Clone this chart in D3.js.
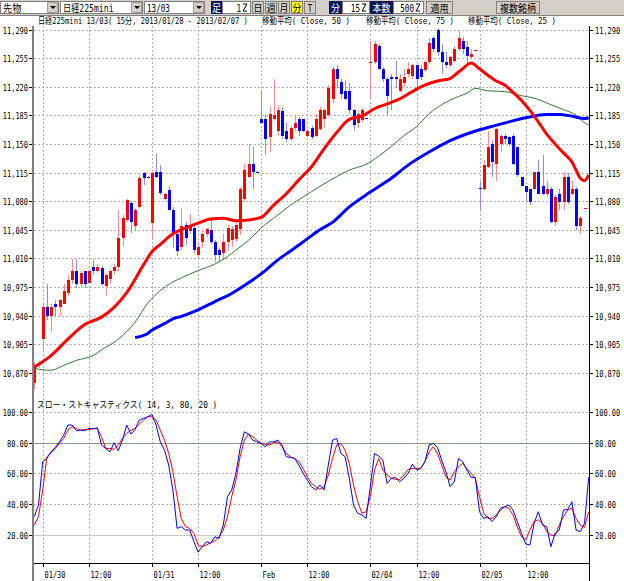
<!DOCTYPE html>
<html>
<head>
<meta charset="utf-8">
<script src="https://cdn.jsdelivr.net/npm/d3@7"></script>
<style>
  body { margin: 0; background: #fff; }
  text { font-family: "DejaVu Sans Mono", "Noto Sans CJK JP", monospace; font-size: 9px; fill: #000; }
</style>
</head>
<body>
<div id="chart"></div>
<script>
// ---- data (15 minute bars, index 0 = 01/30 first bar, 26 bars per session) ----
const firstBar = -2;
// each row: open, high, low, close
const opens  = [10858,10879,10911,10950,10939,10954,10950,10954,10968,10984,10994,10978,10994,10980,10999,10994,10998,10976,10985,10994,10999,11035,11057,11078,11050,11073,11114,11110,
                11053,11116,11116,11083,11093,11069,11040,11024,11051,11043,11047,11014,11030,11040,11045,11030,11020,11016,11030,11032,11034,11046,11083,11110,11126,11116,
                11181,11181,11158,11181,11166,11190,11166,11156,11170,11181,11180,11160,11170,11160,11168,11181,11185,11205,11242,11226,11215,11215,11191,11175,11179,11182,
                11249,11250,11270,11242,11230,11232,11232,11215,11225,11236,11233,11246,11242,11240,11250,11280,11290,11262,11250,11246,11252,11266,11276,11268,11256,11264,
                11096,11095,11122,11150,11126,11150,11160,11158,11160,11146,11110,11099,11095,11095,11116,11099,11089,11095,11055,11089,11079,11110,11089,11095,11050,11070];
const highs  = [10883,10884,10954,10978,10954,10959,10960,10978,10990,11009,11009,10994,10995,10997,11009,11003,11000,10992,10996,11003,11069,11063,11082,11080,11072,11112,11116,11111,
                11116,11138,11124,11090,11097,11073,11043,11071,11055,11064,11050,11030,11045,11047,11061,11032,11022,11040,11051,11050,11056,11097,11126,11150,11146,11117,
                11215,11185,11195,11230,11197,11195,11175,11172,11185,11183,11181,11168,11172,11186,11195,11193,11222,11244,11246,11229,11228,11225,11193,11192,11194,11182,
                11276,11276,11272,11244,11232,11236,11252,11236,11242,11250,11248,11247,11246,11253,11280,11282,11292,11272,11262,11258,11270,11290,11281,11276,11266,11265,
                11105,11130,11166,11155,11170,11162,11162,11160,11162,11146,11110,11099,11095,11116,11130,11136,11105,11097,11087,11095,11116,11114,11105,11097,11062,11072];
const lows   = [10850,10876,10898,10934,10920,10939,10940,10954,10964,10978,10974,10975,10974,10978,10990,10992,10976,10964,10978,10990,10994,11025,11054,11041,11043,11071,11100,11108,
                11035,11108,11087,11080,11068,11022,11013,11020,11026,11040,11016,11010,11022,11036,11028,11006,11005,11008,11020,11024,11030,11038,11079,11108,11095,11115,
                11175,11136,11140,11178,11160,11156,11152,11154,11166,11160,11164,11158,11156,11158,11166,11170,11183,11200,11219,11205,11204,11187,11166,11170,11177,11180,
                11205,11248,11240,11226,11185,11191,11219,11213,11220,11232,11230,11219,11228,11238,11248,11262,11258,11235,11243,11244,11250,11264,11260,11246,11254,11264,
                11069,11094,11120,11110,11105,11140,11150,11148,11124,11110,11099,11079,11075,11093,11089,11087,11085,11053,11049,11069,11069,11077,11087,11045,11040,11070];
const closes = [10880,10882,10950,10939,10950,10950,10959,10970,10984,10994,10978,10992,10978,10994,10994,10999,10978,10990,10994,10999,11035,11059,11081,11055,11069,11108,11108,11109,
                11114,11110,11090,11089,11069,11040,11019,11050,11035,11051,11020,11024,11040,11046,11030,11014,11014,11030,11047,11046,11051,11095,11118,11126,11116,11115,
                11175,11156,11186,11185,11191,11160,11156,11170,11176,11166,11166,11166,11158,11181,11191,11191,11219,11242,11230,11211,11205,11191,11173,11187,11191,11181,
                11250,11272,11242,11230,11209,11230,11230,11230,11232,11242,11246,11230,11232,11250,11274,11266,11262,11250,11246,11256,11266,11280,11266,11258,11260,11265,
                11095,11124,11146,11128,11168,11160,11156,11150,11126,11112,11099,11091,11079,11116,11089,11089,11095,11055,11085,11079,11110,11079,11095,11049,11059,11072];

// moving averages: [bar, value]
const ma25 = [[-2,10877],[2,10891],[6,10911],[10,10929],[14,10938],[17,10950],[20,10968],[24,11002],[26,11018],[28,11027],[31,11040],
              [34,11047],[37,11053],[40,11058],[43,11059],[46,11056],[49,11057],[52,11060],[55,11075],[58,11089],[61,11106],[64,11122],
              [67,11144],[70,11164],[73,11180],[76,11184],[79,11193],[82,11199],[85,11205],[88,11214],[91,11222],[94,11227],[97,11230],
              [99,11238],[100,11242],[102,11249],[104,11242],[106,11234],[108,11227],[110,11222],[112,11213],[114,11203],[116,11191],
              [118,11177],[120,11162],[122,11150],[124,11139],[126,11128],[127,11118],[128,11108],[129,11105],[130,11112]];
const ma50 = [[-2,10875],[2,10873],[5,10879],[8,10885],[12,10891],[14,10898],[18,10911],[22,10932],[25,10955],[27,10966],[30,10978],
              [33,10986],[37,10995],[41,11003],[44,11012],[46,11020],[49,11032],[52,11047],[56,11063],[59,11075],[62,11085],[66,11098],
              [70,11110],[73,11118],[77,11125],[80,11135],[83,11147],[86,11160],[89,11171],[92,11187],[95,11198],[99,11208],[101,11212],
              [103,11218],[106,11215],[110,11214],[114,11209],[117,11206],[121,11198],[124,11192],[127,11185],[129,11176],[130,11173]];
const ma75 = [[22,10913],[25,10918],[26,10922],[29,10930],[31,10936],[33,10939],[37,10947],[41,10957],[45,10967],[49,10980],[53,10995],
              [56,11008],[59,11019],[62,11030],[66,11045],[69,11054],[73,11073],[78,11091],[83,11108],[87,11124],[92,11140],[97,11154],
              [102,11164],[106,11170],[111,11177],[115,11182],[120,11186],[123,11186],[126,11184],[129,11181],[130,11182]];

// slow stochastics, bars -2 .. 130
const stochK = [31.9,39.5,67.6,69.7,74,76.9,80.5,84.9,91.4,91.4,87.7,88.1,87.7,89.2,88.8,89.6,78.4,76.2,74,79.9,74.7,81.6,91.4,85.5,88.5,94.6,95.7,96.8,
                98.3,91.4,80.5,75.1,65.4,49.2,24.3,25.4,23.2,23.2,15.7,8.8,12.4,15.7,14.6,18.9,17.8,26.5,44.9,49.2,60,76.2,87,85.5,81.6,80.5,
                79.5,77.3,80.5,80.5,81.6,78.4,70.8,70.4,69.7,65.4,60,55.7,51.4,49.2,52.4,49.2,65.4,81.6,82.7,73,70.8,56.8,39.5,34.1,33,30.8,
                51.4,73,71.2,68.6,53.5,56.8,57.4,54.6,56.8,60,66,62.2,63.2,67.6,78.4,79.5,76.9,68.6,61.1,51.4,54.6,69.7,67.6,62.2,57.4,57.4,
                35.1,30.8,31.9,28.7,31.9,37.3,38.4,39.5,36.2,28.7,21.1,14.2,13.5,27.6,35.1,26.5,25.4,12.4,21.1,23.2,36.2,36.6,41.6,23.2,22.2,27.6,57.4];
const stochD = [26.5,31.9,49.2,70.8,73.4,76.2,79.5,82.7,88.1,90.3,89.2,88.1,88.5,88.5,89.2,89.2,83.8,76.2,76.2,75.6,78.4,82.7,85.9,88.1,89.2,92,94.6,96.8,
                96.8,94.6,88.1,81.6,73,61.1,44.9,30.8,25.4,24.3,21.1,13.5,12.4,13.5,15,16.3,18.9,23.2,31.9,44.9,55.7,70.8,81.6,85.5,83.8,81.6,
                79.5,79,78.4,79.9,80.5,77.3,73,70.8,69.7,67.6,63.2,57.8,53.5,51.4,49.6,51.4,58.9,69.7,78.4,79.5,75.1,66.5,52.4,41.6,34.1,35.1,
                44.9,62.2,69.7,62.2,58.9,56.8,56.1,56.1,58.9,62.6,63.2,63.2,63.2,67.6,74,77.3,73,65.4,57.8,55.7,61.1,64.3,66.5,63.2,60,56.8,
                44.9,34.1,30.8,30.8,33,36.2,38.4,37.3,33,25.4,18.9,16.8,23.2,28.7,29.8,27.6,22.2,20,19.4,26.5,31.9,36.2,37.3,30.8,26.5,25,35.1];

const priceTicks = d3.range(10870, 11291, 35);
const stochTicks = [20, 40, 60, 80, 100];
const timeTickBars = [0, 11, 26, 37, 52, 63, 78, 89, 104, 115];
const timeTickLabels = ["01/30", "12:00", "01/31", "12:00", "Feb", "12:00", "02/04", "12:00", "02/05", "12:00"];

// ---- layout ----
const width = 624, height = 581;
const plotLeft = 34, plotRight = 589;
const mainTop = 26, mainBottom = 393;
const stochTop = 396, stochBottom = 563;

const svg = d3.select("#chart").append("svg")
    .attr("width", width)
    .attr("height", height);

const x = d3.scaleLinear().domain([0, 130]).range([42.7, 588.7]);
const y = d3.scaleLinear().domain([10870, 11290]).range([372.7, 29.5]);
const ys = d3.scaleLinear().domain([0, 100]).range([565.8, 411.8]);

// text squeezed horizontally to the narrow bitmap font of the original
function units(s) {
    let n = 0;
    for (const ch of s) n += ch.charCodeAt(0) > 0x2e80 ? 2 : 1;
    return n;
}
function label(g, s, px, py, anchor, size, unit) {
    const t = g.append("text").attr("x", 0).attr("y", 0).text(s);
    if (size) t.style("font-size", size + "px");
    const natural = t.node().getComputedTextLength();
    const target = units(s) * (unit || 4.2);
    const sx = natural > 0 ? target / natural : 1;
    let left = px;
    if (anchor === "end") left = px - target;
    if (anchor === "middle") left = px - target / 2;
    t.attr("transform", `translate(${left},${py}) scale(${sx},1)`);
    return t;
}

svg.append("rect").attr("width", width).attr("height", height).attr("fill", "#fff");

// ---- toolbar ----
const bar = svg.append("g");
bar.append("rect").attr("x", 0).attr("y", 0).attr("width", width).attr("height", 15).attr("fill", "#d4d0c8");
bar.append("line").attr("x1", 0).attr("x2", width).attr("y1", 15.5).attr("y2", 15.5).attr("stroke", "#808080");

function dropdown(x0, x1, s) {
    bar.append("rect").attr("x", x0 + 0.5).attr("y", 1.5).attr("width", x1 - x0).attr("height", 12)
        .attr("fill", "#fff").attr("stroke", "#808080");
    bar.append("rect").attr("x", x1 - 10.5).attr("y", 2.5).attr("width", 10).attr("height", 10)
        .attr("fill", "#d4d0c8").attr("stroke", "#a0a0a0");
    bar.append("path").attr("d", `M${x1 - 8},6 h6 l-3,3 z`).attr("fill", "#000");
    label(bar, s, x0 + 3, 11.5, null, 10, 4.6);
}
function button(x0, x1, s, fill, color) {
    bar.append("rect").attr("x", x0 + 0.5).attr("y", 1.5).attr("width", x1 - x0).attr("height", 12)
        .attr("fill", fill).attr("stroke", fill === "#0a1a55" ? fill : "#808080");
    label(bar, s, (x0 + x1) / 2 + 0.5, 11.5, "middle", 10, 4.5).style("fill", color || "#000");
}
function field(x0, x1, s) {
    bar.append("rect").attr("x", x0 + 0.5).attr("y", 1.5).attr("width", x1 - x0).attr("height", 12)
        .attr("fill", "#fff").attr("stroke", "#808080");
    label(bar, s, x1 - 9, 11.5, "end", 10, 4.6);
    bar.append("path").attr("d", `M${x1 - 7},4 h4 l-4,7 h4`).attr("fill", "none").attr("stroke", "#000");
}
dropdown(0, 58, "先物");
dropdown(60, 142, "日経225mini");
dropdown(144, 204, "13/03");
button(211, 221, "足", "#0a1a55", "#fff");
field(222, 250, "1");
button(252, 263, "日", "#d4d0c8");
button(265, 276, "週", "#d4d0c8");
button(278, 289, "月", "#d4d0c8");
button(291, 302, "分", "#ffff00");
button(304, 315, "T", "#d4d0c8");
button(329, 341, "分", "#0a1a55", "#fff");
field(342, 369, "15");
button(370, 392, "本数", "#0a1a55", "#fff");
field(393, 423, "500");
button(426, 452, "適用", "#d4d0c8");
button(496, 539, "複数銘柄", "#d4d0c8");

// ---- legend ----
label(svg, "日経225mini 13/03( 15分, 2013/01/28 - 2013/02/07 )", 38, 24);
label(svg, "移動平均( Close, 50 )", 262, 24);
label(svg, "移動平均( Close, 75 )", 366, 24);
label(svg, "移動平均( Close, 25 )", 468, 24);
label(svg, "スロー・ストキャスティクス( 14, 3, 80, 20 )", 37, 408);

// ---- grid ----
const grid = svg.append("g").attr("shape-rendering", "crispEdges")
    .attr("stroke", "#b0b0b0").attr("stroke-dasharray", "2,2");
timeTickBars.forEach(b => {
    grid.append("line").attr("x1", Math.round(x(b)) + 0.5).attr("x2", Math.round(x(b)) + 0.5)
        .attr("y1", mainTop).attr("y2", stochBottom);
});
priceTicks.forEach(p => {
    grid.append("line").attr("x1", plotLeft).attr("x2", plotRight)
        .attr("y1", Math.round(y(p)) + 0.5).attr("y2", Math.round(y(p)) + 0.5);
});
[40, 60, 100].forEach(v => {
    grid.append("line").attr("x1", plotLeft).attr("x2", plotRight)
        .attr("y1", Math.round(ys(v)) + 0.5).attr("y2", Math.round(ys(v)) + 0.5);
});
// overbought / oversold levels
svg.append("line").attr("x1", plotLeft).attr("x2", plotRight)
    .attr("y1", Math.round(ys(80)) + 0.5).attr("y2", Math.round(ys(80)) + 0.5)
    .attr("stroke", "#8c9a8c").attr("shape-rendering", "crispEdges");
svg.append("line").attr("x1", plotLeft).attr("x2", plotRight)
    .attr("y1", Math.round(ys(20)) + 0.5).attr("y2", Math.round(ys(20)) + 0.5)
    .attr("stroke", "#c4ccc4").attr("shape-rendering", "crispEdges");

// ---- clip paths ----
const defs = svg.append("defs");
defs.append("clipPath").attr("id", "clipMain").append("rect")
    .attr("x", plotLeft).attr("y", mainTop).attr("width", plotRight - plotLeft).attr("height", mainBottom - mainTop);
defs.append("clipPath").attr("id", "clipStoch").append("rect")
    .attr("x", plotLeft).attr("y", stochTop).attr("width", plotRight - plotLeft).attr("height", stochBottom - stochTop);

// ---- candles ----
const candles = opens.map((o, k) => ({ i: firstBar + k, o: o, h: highs[k], l: lows[k], c: closes[k] }));
const main = svg.append("g").attr("clip-path", "url(#clipMain)");
const cg = main.append("g").attr("shape-rendering", "crispEdges");
cg.selectAll(".wick").data(candles).enter().append("line")
    .attr("class", "wick")
    .attr("x1", d => Math.round(x(d.i)) + 0.5)
    .attr("x2", d => Math.round(x(d.i)) + 0.5)
    .attr("y1", d => y(d.h))
    .attr("y2", d => y(d.l))
    .attr("stroke", d => d.c >= d.o ? "#ff8a8a" : "#8a8aff");
cg.selectAll(".body").data(candles).enter().append("rect")
    .attr("class", "body")
    .attr("x", d => Math.round(x(d.i)) - 1)
    .attr("width", 3)
    .attr("y", d => y(Math.max(d.o, d.c)))
    .attr("height", d => Math.max(1, Math.abs(y(d.o) - y(d.c))))
    .attr("fill", d => d.c >= d.o ? "#ff0000" : "#0000ff");

// ---- moving averages ----
const maLine = d3.line().x(d => x(d[0])).y(d => y(d[1])).curve(d3.curveMonotoneX);
main.append("path").datum(ma50).attr("d", maLine)
    .attr("fill", "none").attr("stroke", "#2f7a2f").attr("stroke-width", 1);
main.append("path").datum(ma75).attr("d", maLine)
    .attr("fill", "none").attr("stroke", "#0000ff").attr("stroke-width", 3);
main.append("path").datum(ma25).attr("d", maLine)
    .attr("fill", "none").attr("stroke", "#ff0000").attr("stroke-width", 3);

// ---- stochastics ----
const stochG = svg.append("g").attr("clip-path", "url(#clipStoch)");
const sLine = d3.line().x((d, k) => x(firstBar + k)).y(d => ys(d));
stochG.append("path").datum(stochD).attr("d", sLine)
    .attr("fill", "none").attr("stroke", "#ff0000").attr("stroke-width", 1);
stochG.append("path").datum(stochK).attr("d", sLine)
    .attr("fill", "none").attr("stroke", "#0000ff").attr("stroke-width", 1);

// ---- axes ----
const axes = svg.append("g").attr("shape-rendering", "crispEdges");
axes.append("line").attr("x1", 33).attr("x2", 33).attr("y1", mainTop).attr("y2", height)
    .attr("stroke", "#808080").attr("stroke-width", 2);
axes.append("line").attr("x1", plotRight + 0.5).attr("x2", plotRight + 0.5).attr("y1", mainTop).attr("y2", height)
    .attr("stroke", "#000");
axes.append("line").attr("x1", plotLeft).attr("x2", plotRight).attr("y1", stochBottom + 0.5).attr("y2", stochBottom + 0.5)
    .attr("stroke", "#000");

const fmt = d3.format(",");
priceTicks.forEach(p => {
    const yy = Math.round(y(p)) + 0.5;
    axes.append("line").attr("x1", 29).attr("x2", 32).attr("y1", yy).attr("y2", yy).attr("stroke", "#000");
    axes.append("line").attr("x1", plotRight).attr("x2", plotRight + 4).attr("y1", yy).attr("y2", yy).attr("stroke", "#000");
    label(svg, fmt(p), 28, yy + 3, "end");
    label(svg, fmt(p), 595, yy + 3);
});
stochTicks.forEach(v => {
    const yy = Math.round(ys(v)) + 0.5;
    axes.append("line").attr("x1", 29).attr("x2", 32).attr("y1", yy).attr("y2", yy).attr("stroke", "#000");
    axes.append("line").attr("x1", plotRight).attr("x2", plotRight + 4).attr("y1", yy).attr("y2", yy).attr("stroke", "#000");
    label(svg, v.toFixed(2), 28, yy + 3, "end");
    label(svg, v.toFixed(2), 595, yy + 3);
});
timeTickBars.forEach((b, k) => {
    const xx = Math.round(x(b)) + 0.5;
    axes.append("line").attr("x1", xx).attr("x2", xx).attr("y1", stochBottom).attr("y2", stochBottom + 4).attr("stroke", "#000");
    label(svg, timeTickLabels[k], xx + 1, 578);
});
</script>
</body>
</html>
